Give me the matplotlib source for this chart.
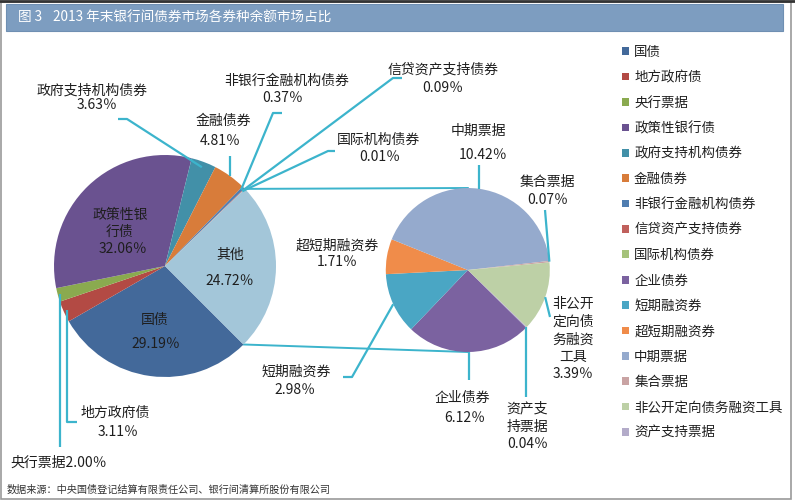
"""2013年末银行间债券市场各券种余额市场占比 - pie of pie chart."""

import numpy as np
import matplotlib.pyplot as plt
from matplotlib.patches import Rectangle

plt.rcParams['font.family'] = ['Noto Sans CJK SC', 'DejaVu Sans']

# main pie, share of total balance (%)
main_names = ['国债', '地方政府债', '央行票据', '政策性银行债', '政府支持机构债券',
              '金融债券', '非银行金融机构债券', '信贷资产支持债券', '国际机构债券', '其他']
main_vals = [29.19, 3.11, 2.00, 32.06, 3.63, 4.81, 0.37, 0.09, 0.01, 24.72]
main_colors = ['#43699a', '#b34a44', '#8aaa4f', '#6a5290', '#4290a8',
               '#d87c3a', '#4f7db0', '#c0605c', '#a5c27a', '#a3c6d9']

# second pie, breakdown of "其他" (%)
sub_names = ['企业债券', '短期融资券', '超短期融资券', '中期票据', '集合票据',
             '非公开定向债务融资工具', '资产支持票据']
sub_vals = [6.12, 2.98, 1.71, 10.42, 0.07, 3.39, 0.04]
sub_colors = ['#7b62a0', '#4aa6c4', '#f08c4a', '#95aacd', '#c9a3a3',
              '#bdd0a6', '#b3abc9']

LINE = '#3cb4cc'
H = 500


def P(x, y):
    """pixel position (y down) -> axes data coords (y up)"""
    return x, H - y


def edge(w, frac=1.0):
    """point on wedge w at its mid angle, returned in pixel coords"""
    a = np.deg2rad((w.theta1 + w.theta2) / 2)
    cx, cy = w.center
    return cx + frac * w.r * np.cos(a), H - (cy + frac * w.r * np.sin(a))


fig = plt.figure(figsize=(7.95, 5), dpi=100)
ax = fig.add_axes([0, 0, 1, 1])

wl, _ = ax.pie(main_vals, colors=main_colors, startangle=-45, counterclock=False,
               center=P(165, 266), radius=111, wedgeprops=dict(linewidth=0))
wr, _ = ax.pie(sub_vals, colors=sub_colors, startangle=-44.6, counterclock=False,
               center=P(467.8, 270), radius=82, wedgeprops=dict(linewidth=0))

# series lines joining "其他" to the second pie
oth = wl[-1]
for ang, ty in [(oth.theta2, 188), (oth.theta1, 352)]:
    a = np.deg2rad(ang)
    x0 = 165 + 111 * np.cos(a)
    y0 = 266 - 111 * np.sin(a)
    ax.plot(*zip(P(x0, y0), P(467.8, ty)), color=LINE, lw=1.4, zorder=0)

# leader lines: (wedge, label-side points, radius fraction, vertical-to-y)
wd = dict(zip(main_names, wl))
wd.update(dict(zip(sub_names, wr)))
leaders = [
    ('政府支持机构债券', [(118, 119), (127, 119)], 0.95, None),
    ('金融债券', [], 1.0, 156),
    ('非银行金融机构债券', [(282, 113), (273, 113)], 0.97, None),
    ('信贷资产支持债券', [(402, 78), (393, 78)], 0.97, None),
    ('国际机构债券', [(335, 151), (328, 151)], 0.97, None),
    ('地方政府债', [(77, 422)], 0.97, 422),
    ('央行票据', [], 0.98, 447),
    ('中期票据', [], 1.0, 165),
    ('集合票据', [(545, 210)], 1.0, None),
    ('非公开定向债务融资工具', [(550, 317)], 1.0, None),
    ('资产支持票据', [], 1.0, 397),
    ('企业债券', [], 1.0, 380),
    ('短期融资券', [(343, 377), (352, 377)], 1.0, None),
]
for name, pts, frac, vy in leaders:
    ex, ey = edge(wd[name], frac)
    path = list(pts)
    if vy is not None:
        path.append((ex, vy))
    path.append((ex, ey))
    xs, ys = zip(*[P(x, y) for x, y in path])
    ax.plot(xs, ys, color=LINE, lw=1.6, solid_capstyle='butt')

# data labels
pct = dict(zip(main_names + sub_names, main_vals + sub_vals))
fmt = lambda n: f'{pct[n]:.2f}％'
labels = [
    ('政府支持机构债券', 92, 91), (fmt('政府支持机构债券'), 97, 105),
    ('金融债券', 223, 121), (fmt('金融债券'), 220, 141),
    ('非银行金融机构债券', 287, 81), (fmt('非银行金融机构债券'), 283, 98),
    ('信贷资产支持债券', 443, 69), (fmt('信贷资产支持债券'), 443, 88),
    ('国际机构债券', 378, 140), (fmt('国际机构债券'), 380, 157),
    ('其他', 230, 255), (fmt('其他'), 230, 281),
    ('国债', 155, 320), (fmt('国债'), 156, 344),
    ('政策性银', 120, 215), ('行债', 120, 232), (fmt('政策性银行债'), 123, 249),
    ('地方政府债', 115, 413), (fmt('地方政府债'), 118, 432),
    ('中期票据', 478, 131), (fmt('中期票据'), 483, 155),
    ('集合票据', 547, 182), (fmt('集合票据'), 548, 200),
    ('非公开', 573, 304), ('定向债', 573, 322), ('务融资', 573, 340),
    ('工具', 573, 357), (fmt('非公开定向债务融资工具'), 573, 374),
    ('资产支', 527, 408), ('持票据', 527, 427), (fmt('资产支持票据'), 528, 444),
    ('企业债券', 462, 398), (fmt('企业债券'), 465, 418),
    ('短期融资券', 296, 372), (fmt('短期融资券'), 295, 390),
    ('超短期融资券', 337, 246), (fmt('超短期融资券'), 337, 262),
]
for s, x, y in labels:
    ax.text(*P(x, y), s, fontsize=10, color='#1e1e1e', ha='center', va='center')
ax.text(*P(10, 463), '央行票据' + fmt('央行票据'), fontsize=10, color='#1e1e1e',
        ha='left', va='center')

# legend
ax.legend(wl[:9] + wr, main_names[:9] + sub_names, loc='upper left',
          bbox_to_anchor=(622 / 795, 1 - 45 / H), frameon=False, fontsize=9.7,
          handlelength=0.5, handleheight=0.5, handletextpad=0.4,
          labelspacing=0.845, borderpad=0, borderaxespad=0, labelcolor='#1e1e1e')

# title bar, frame and source
ax.add_patch(Rectangle(P(6, 31), 777, 27, facecolor='#7d9dc0', edgecolor='#6f8fb2',
                       lw=0.8, zorder=3))
ax.text(*P(18, 17.5), '图 3', color='white', fontsize=9.8, va='center', zorder=4)
ax.text(*P(53, 17.5), '2013 年末银行间债券市场各券种余额市场占比', color='white',
        fontsize=9.8, va='center', zorder=4)
ax.add_patch(Rectangle(P(1, 499), 790, 497, facecolor='none', edgecolor='#9a9a9a',
                       lw=1.2, zorder=5))
ax.plot(*zip(P(0, 0.8), P(795, 0.8)), color='#333333', lw=2, zorder=5)
ax.text(*P(7, 490), '数据来源：中央国债登记结算有限责任公司、银行间清算所股份有限公司',
        fontsize=7.3, color='#333333', va='center')

ax.set_xlim(0, 795)
ax.set_ylim(0, H)
ax.set_aspect('equal')
ax.axis('off')

fig.savefig('out.png', dpi=100)
